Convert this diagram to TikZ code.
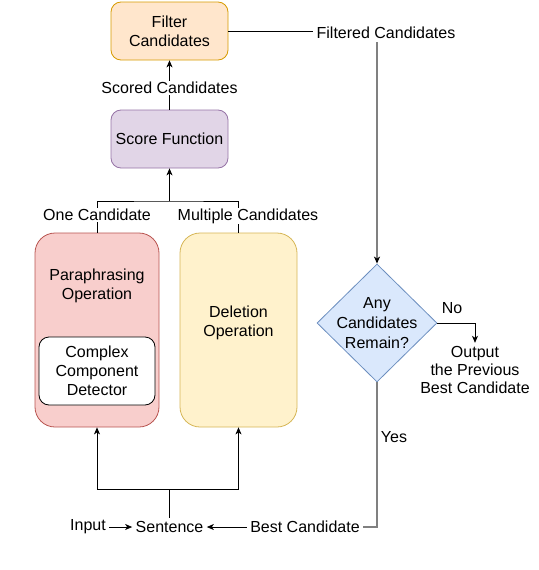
\documentclass[tikz,border=0pt]{standalone}
\usepackage{fontspec}
\setmainfont{Liberation Sans}
\usetikzlibrary{shapes.geometric, arrows.meta}

\definecolor{filtfill}{HTML}{FFE6CC}
\definecolor{filtline}{HTML}{D79B00}
\definecolor{scorefill}{HTML}{E1D5E7}
\definecolor{scoreline}{HTML}{9673A6}
\definecolor{parafill}{HTML}{F8CECC}
\definecolor{paraline}{HTML}{B85450}
\definecolor{delfill}{HTML}{FFF2CC}
\definecolor{delline}{HTML}{D6B656}
\definecolor{decfill}{HTML}{DAE8FC}
\definecolor{decline}{HTML}{6C8EBF}
\definecolor{greyline}{HTML}{808080}

\begin{document}
\begin{tikzpicture}[x=1pt, y=-1pt,
    every node/.style={font=\fontsize{16}{19}\selectfont, align=center},
    box/.style={draw, rounded corners=10pt, line width=0.8pt, minimum width=117pt, minimum height=58pt},
    opbox/.style={draw, rounded corners=20pt, line width=0.8pt, minimum height=194pt},
    lbl/.style={fill=white, inner sep=1pt},
    arr/.style={-{Stealth[length=7pt, width=6pt, inset=2pt, black]}, line width=0.8pt},
    greypath/.style={draw=greyline, line width=1.6pt}]
    \useasboundingbox (0,0) rectangle (538,570);

    % Top boxes
    \node[box, fill=filtfill, draw=filtline] (filt) at (169.5,31) {Filter\\Candidates};
    \node[box, fill=scorefill, draw=scoreline] (score) at (169.5,139) {Score Function};

    % Operation boxes
    \node[opbox, fill=parafill, draw=paraline, minimum width=124pt] (para) at (97,330) {};
    \node (paratext) at (97,286) {Paraphrasing\\Operation};
    \node[draw, fill=white, rounded corners=10pt, line width=0.8pt, minimum width=116pt, minimum height=68pt] (det) at (97,371) {Complex\\Component\\Detector};
    \node[opbox, fill=delfill, draw=delline, minimum width=117pt] (del) at (238.5,330) {};
    \node (deltext) at (238.5,323) {Deletion\\Operation};

    % Decision
    \node[diamond, fill=decfill, draw=decline, line width=0.8pt, inner sep=0pt, minimum width=120pt, minimum height=118pt,
        label={[font=\fontsize{16}{20}\selectfont, align=center]center:Any\\Candidates\\Remain?}] (dec) at (377,323) {};
    \node (no) at (452,308) {No};
    \node[font=\fontsize{16}{18}\selectfont] (out) at (475,370) {Output\\the Previous\\Best Candidate};
    \node (yes) at (394,437) {Yes};

    % Bottom row
    \node (inp) at (88,527) {Input};
    \node (sent) at (169.5,527) {Sentence};
    \node (best) at (305,527) {Best Candidate};
    \coordinate (split) at (169.5,201);
    \coordinate (join) at (169.5,489);

    % Connectors
    \draw[arr] (score) -- (filt);
    \draw[arr] (split) -- (score);
    \draw[line width=0.8pt] (para.north) |- (split) -| (del.north);
    \draw[line width=0.8pt] (sent.north) -- (join);
    \draw[arr] (join) -| (para.south);
    \draw[arr] (join) -| (del.south);
    \draw[arr] (inp) -- (sent);
    \draw[arr] (best.west) -- (sent.east);
    \draw[greypath] (dec.south) |- (best.east);
    \draw[arr] (dec.east) -| (out.north);

    % Labels on the lines
    \node[lbl] (scored) at (169.5,88) {Scored Candidates};
    \node[lbl] (one) at (97,215) {One Candidate};
    \node[lbl] (multi) at (248,216) {Multiple Candidates};
    \node (fc) at (386,33) {Filtered Candidates};
    \draw[line width=0.8pt] (filt.east) -- (filt.east -| fc.west);
    \draw[greypath, arr, line width=1.6pt] (fc.south -| dec.north) -- (dec.north);
\end{tikzpicture}
\end{document}
